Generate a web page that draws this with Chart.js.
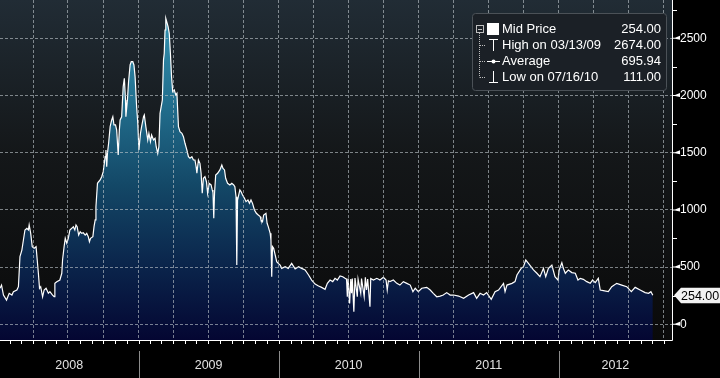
<!DOCTYPE html>
<html><head><meta charset="utf-8">
<script src="https://cdn.jsdelivr.net/npm/chart.js@4.4.1/dist/chart.umd.min.js"></script>
<style>html,body{margin:0;padding:0;background:#000;overflow:hidden}canvas{display:block}</style>
</head><body>
<canvas id="c" width="720" height="378"></canvas>
<script>
// Days since 2008-01-01 and mid prices
const days = [5,9,14,22,29,36,40,49,53,57,62,66,70,75,79,81,85,89,94,99,102,105,108,111,116,120,125,131,135,142,146,148,153,161,166,168,172,175,179,183,187,192,196,200,203,206,210,214,218,222,227,231,235,238,241,247,250,253,255,259,262,266,270,274,279,281,283,285,288,292,296,299,302,306,309,313,316,318,322,326,329,332,333,337,340,344,347,351,354,357,361,364,367,371,374,379,381,385,390,393,397,400,405,409,412,416,419,422,425,428,431,433,435,437,443,446,449,452,455,459,463,466,470,474,479,483,487,492,496,500,505,509,513,516,518,522,526,529,532,535,539,543,546,550,555,558,560,562,564,567,572,578,583,586,590,593,598,604,609,614,617,620,622,624,630,633,637,642,646,651,655,659,663,668,673,678,683,685,689,692,698,701,704,709,711,713,715,718,722,726,730,735,739,748,756,765,774,783,791,800,809,817,826,835,843,852,858,865,872,878,884,891,898,904,908,910,912,916,919,921,923,927,930,936,938,945,947,954,957,960,963,969,971,978,987,995,1004,1011,1014,1017,1021,1030,1039,1047,1056,1065,1074,1081,1087,1095,1104,1117,1126,1134,1143,1152,1160,1169,1178,1187,1200,1213,1226,1239,1247,1256,1265,1273,1285,1295,1304,1317,1321,1326,1339,1347,1352,1363,1369,1375,1382,1395,1404,1412,1421,1427,1434,1443,1451,1459,1462,1469,1473,1478,1486,1495,1504,1511,1517,1525,1534,1543,1549,1556,1564,1569,1577,1590,1599,1612,1625,1638,1650,1660,1673,1686,1695,1701,1706];
const prices = [315,343,256,212,271,256,285,300,329,591,649,737,824,839,824,868,795,678,664,678,562,446,315,329,241,300,315,271,285,256,241,358,372,387,446,562,678,752,708,752,824,839,853,824,868,853,780,809,795,800,780,795,766,722,752,766,853,912,1028,1232,1246,1261,1290,1334,1465,1523,1377,1494,1582,1727,1786,1814,1742,1742,1698,1480,1698,1786,1814,2077,2150,1960,1814,1960,2120,2266,2295,2295,2266,2164,1902,1757,1523,1669,1727,1814,1829,1727,1611,1669,1596,1654,1611,1625,1552,1494,1552,1844,1902,1960,2310,2368,2572,2674,2601,2543,2368,2164,2033,2048,2004,2019,1727,1683,1669,1640,1582,1523,1465,1451,1465,1436,1436,1377,1320,1436,1407,1320,1145,1276,1290,1246,1145,1232,1218,1174,1150,926,1145,1305,1320,1349,1392,1363,1349,1276,1232,1218,1232,1218,1203,1115,518,1086,1174,1160,1130,1101,1072,1086,1057,1086,1057,999,970,955,941,912,897,955,970,883,854,795,737,416,679,664,606,547,533,518,489,504,489,533,484,504,489,475,431,387,352,335,323,306,358,387,373,402,387,422,416,402,395,241,400,183,395,271,400,111,405,241,395,271,400,241,410,300,395,154,400,387,402,387,411,387,300,380,373,387,358,343,373,358,343,285,315,285,315,323,300,271,241,247,256,277,256,256,247,227,256,277,227,271,256,277,218,285,300,358,285,343,358,373,431,489,504,562,533,475,446,416,489,416,489,518,416,387,475,539,489,446,475,452,446,387,402,393,373,358,387,364,402,300,294,285,329,358,343,329,285,323,300,277,271,285,254];

const yearLabels = ['2008','2009','2010','2011','2012'];
const yearStarts = [0,366,731,1096,1461,1827];
const quarterStarts = [91,182,274,366,456,547,639,731,821,912,1004,1096,1186,1277,1369,1461,1552,1643,1735];
const yTicks = [0,500,1000,1500,2000,2500];
const yMinorTicks = [250,750,1250,1750,2250,2750];
const legendLabels = ['Mid Price','High on 03/13/09','Average','Low on 07/16/10'];
const legendValues = ['254.00','2674.00','695.94','111.00'];
const lastValue = 254.00;
const lastLabel = '254.00';

const X_MIN = 5, X_MAX = 1756, Y_MIN = -137, Y_MAX = 2834;
const FONT = '"Liberation Sans", Arial, sans-serif';
const GRID = 'rgba(190,198,204,0.62)';

function areaGradient(context) {
  const a = context.chart.chartArea;
  if (!a) return 'rgba(30,90,120,0.8)';
  const g = context.chart.ctx.createLinearGradient(0, a.top, 0, a.bottom);
  g.addColorStop(0, '#3797b6');
  g.addColorStop(0.3, '#226f8e');
  g.addColorStop(0.55, '#134766');
  g.addColorStop(0.8, '#0a2249');
  g.addColorStop(1, '#040632');
  return g;
}

const bgPlugin = {
  id: 'bg',
  beforeDraw(chart) {
    const {ctx, chartArea: a} = chart;
    ctx.save();
    ctx.fillStyle = '#000';
    ctx.fillRect(0, 0, chart.width, chart.height);
    const g = ctx.createLinearGradient(0, a.top, 0, a.bottom);
    g.addColorStop(0, '#212c35');
    g.addColorStop(0.45, '#141719');
    g.addColorStop(1, '#0a0a0a');
    ctx.fillStyle = g;
    ctx.fillRect(a.left, a.top, a.right - a.left, a.bottom - a.top);
    ctx.restore();
  }
};

const overlayPlugin = {
  id: 'overlay',
  afterDraw(chart) {
    const {ctx, chartArea: a} = chart;
    const xs = chart.scales.x, ys = chart.scales.y;
    ctx.save();
    // axis lines
    ctx.strokeStyle = '#ffffff';
    ctx.lineWidth = 1;
    ctx.beginPath();
    ctx.moveTo(a.right + 0.5, 0);
    ctx.lineTo(a.right + 0.5, a.bottom + 0.5);
    ctx.moveTo(0, a.bottom + 0.5);
    ctx.lineTo(a.right + 0.5, a.bottom + 0.5);
    ctx.stroke();
    // monthly ticks under x axis
    const t0 = Date.UTC(2008, 0, 1);
    ctx.beginPath();
    for (let m = 0; m < 60; m++) {
      const d = (Date.UTC(2008, m, 1) - t0) / 864e5;
      if (d < X_MIN || d > X_MAX) continue;
      const px = Math.round(xs.getPixelForValue(d)) + 0.5;
      ctx.moveTo(px, a.bottom);
      ctx.lineTo(px, a.bottom + 4);
    }
    ctx.stroke();
    // y minor ticks
    ctx.beginPath();
    yMinorTicks.forEach(v => {
      const py = Math.round(ys.getPixelForValue(v)) + 0.5;
      ctx.moveTo(a.right, py);
      ctx.lineTo(a.right + 5, py);
    });
    ctx.stroke();
    // y major tick markers
    ctx.fillStyle = '#ffffff';
    yTicks.forEach(v => {
      const py = ys.getPixelForValue(v);
      ctx.beginPath();
      ctx.moveTo(a.right, py - 0.5);
      ctx.lineTo(a.right + 3, py - 0.5);
      ctx.lineTo(a.right + 8, py - 2.5);
      ctx.lineTo(a.right + 8, py + 1.5);
      ctx.lineTo(a.right + 3, py + 0.5);
      ctx.lineTo(a.right, py + 0.5);
      ctx.closePath();
      ctx.fill();
    });
    // year separators
    ctx.strokeStyle = '#8c8c8c';
    ctx.beginPath();
    for (let i = 1; i < yearStarts.length - 1; i++) {
      const px = Math.round(xs.getPixelForValue(yearStarts[i])) + 0.5;
      ctx.moveTo(px, a.bottom + 11);
      ctx.lineTo(px, chart.height);
    }
    ctx.stroke();
    // last value label
    const ly = ys.getPixelForValue(lastValue);
    ctx.fillStyle = '#f2f2f2';
    ctx.beginPath();
    ctx.moveTo(a.right + 2, ly);
    ctx.lineTo(a.right + 9, ly - 7.5);
    ctx.lineTo(chart.width, ly - 7.5);
    ctx.lineTo(chart.width, ly + 8);
    ctx.lineTo(a.right + 9, ly + 8);
    ctx.closePath();
    ctx.fill();
    ctx.fillStyle = '#000';
    ctx.font = '12.5px ' + FONT;
    ctx.textBaseline = 'middle';
    ctx.textAlign = 'left';
    ctx.fillText(lastLabel, a.right + 9, ly + 1);

    // legend box
    const bx = 472.5, by = 13.5, bw = 194, bh = 77;
    ctx.fillStyle = '#1b2026';
    ctx.strokeStyle = '#4b5157';
    ctx.beginPath();
    ctx.roundRect(bx, by, bw, bh, 3);
    ctx.fill();
    ctx.stroke();
    const rows = [29, 45, 61, 77];
    // tree
    ctx.strokeStyle = '#bfbfbf';
    ctx.lineWidth = 1;
    ctx.strokeRect(476.5, 25.5, 7, 7);
    ctx.beginPath();
    ctx.moveTo(478, 29.5); ctx.lineTo(482, 29.5);
    ctx.stroke();
    ctx.setLineDash([1, 1]);
    ctx.beginPath();
    ctx.moveTo(479.5, 33); ctx.lineTo(479.5, rows[3] + 0.5);
    for (let i = 1; i < 4; i++) { ctx.moveTo(480, rows[i] + 0.5); ctx.lineTo(486, rows[i] + 0.5); }
    ctx.stroke();
    ctx.setLineDash([]);
    // icons
    ctx.fillStyle = '#ffffff';
    ctx.fillRect(487, 23, 12, 12);
    ctx.strokeStyle = '#ffffff';
    ctx.beginPath();
    ctx.moveTo(489, 39.5); ctx.lineTo(498, 39.5);
    ctx.moveTo(493.5, 39.5); ctx.lineTo(493.5, 51);
    ctx.moveTo(487, 61.5); ctx.lineTo(500, 61.5);
    ctx.moveTo(493.5, 71); ctx.lineTo(493.5, 82.5);
    ctx.moveTo(489, 82.5); ctx.lineTo(498, 82.5);
    ctx.stroke();
    ctx.beginPath();
    ctx.arc(493.5, 61.5, 2, 0, Math.PI * 2);
    ctx.fill();
    ctx.font = '13px ' + FONT;
    ctx.fillStyle = '#ffffff';
    ctx.textBaseline = 'middle';
    legendLabels.forEach((t, i) => {
      ctx.textAlign = 'left';
      ctx.fillText(t, 502, rows[i] + 0.5);
      ctx.textAlign = 'right';
      ctx.fillText(legendValues[i], 661, rows[i] + 0.5);
    });
    ctx.restore();
  }
};

new Chart(document.getElementById('c'), {
  type: 'line',
  data: {
    datasets: [{
      data: days.map((d, i) => ({x: d, y: prices[i]})),
      borderColor: '#ffffff',
      borderWidth: 1.2,
      pointRadius: 0,
      tension: 0,
      fill: 'start',
      backgroundColor: areaGradient
    }]
  },
  options: {
    responsive: false,
    animation: false,
    devicePixelRatio: 1,
    layout: {padding: 0},
    plugins: {legend: {display: false}, tooltip: {enabled: false}},
    scales: {
      x: {
        type: 'linear', position: 'bottom', min: X_MIN, max: X_MAX,
        afterBuildTicks: s => { s.ticks = quarterStarts.map(v => ({value: v})); },
        ticks: {display: false},
        grid: {color: GRID, lineWidth: 1, drawTicks: false, z: 1},
        border: {display: false, dash: [3, 2]},
        afterFit: s => { s.height = 0; s.paddingLeft = 0; s.paddingRight = 0; }
      },
      x2: {
        type: 'linear', position: 'bottom', min: X_MIN, max: X_MAX,
        afterBuildTicks: s => {
          s.ticks = yearLabels.map((_, i) => ({value: (Math.max(yearStarts[i], X_MIN) + Math.min(yearStarts[i + 1], X_MAX)) / 2}));
        },
        ticks: {
          color: '#e2e2e2', font: {family: FONT, size: 12.5}, padding: 18,
          maxRotation: 0, autoSkip: false, callback: (v, i) => yearLabels[i]
        },
        grid: {display: false, drawTicks: false},
        border: {display: false},
        afterFit: s => { s.height = 38; s.paddingLeft = 0; s.paddingRight = 0; }
      },
      y: {
        position: 'right', min: Y_MIN, max: Y_MAX,
        afterBuildTicks: s => { s.ticks = yTicks.map(v => ({value: v})); },
        ticks: {color: '#ffffff', font: {family: FONT, size: 12}, padding: 8, callback: v => String(v)},
        grid: {color: GRID, lineWidth: 1, drawTicks: false, z: 1},
        border: {display: false, dash: [3, 2]},
        afterFit: s => { s.width = 48; s.paddingTop = 0; s.paddingBottom = 0; }
      }
    }
  },
  plugins: [bgPlugin, overlayPlugin]
});
</script>
</body></html>
